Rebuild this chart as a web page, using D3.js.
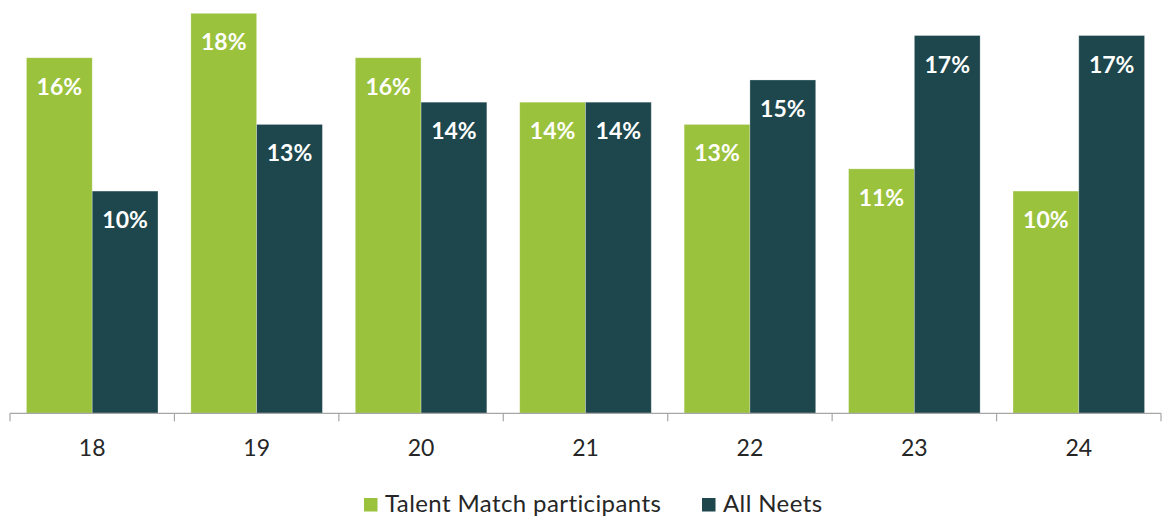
<!DOCTYPE html>
<html>
<head>
<meta charset="utf-8">
<script src="https://cdn.jsdelivr.net/npm/d3@7"></script>
<style>
  body { margin: 0; background: #fff; }
  svg { display: block; font-family: Lato, "Open Sans", sans-serif; }
</style>
</head>
<body>
<svg id="chart" width="1162" height="518"></svg>
<script>
// ages on the x axis
var ages = ['18', '19', '20', '21', '22', '23', '24'];
// share in percent, per age
var talentMatch = [16, 18, 16, 14, 13, 11, 10];
var allNeets = [10, 13, 14, 14, 15, 17, 17];
var seriesNames = ['Talent Match participants', 'All Neets'];
var seriesColors = ['#9bc23c', '#1d474c'];

var svg = d3.select('#chart');
var plotLeft = 10, plotRight = 1161, plotTop = 13.3, base = 413.3;

var x = d3.scaleBand().domain(ages).range([plotLeft, plotRight]).paddingInner(0.2).paddingOuter(0.1);
var x1 = d3.scaleBand().domain([0, 1]).range([0, x.bandwidth()]);
var y = d3.scaleLinear().domain([0, 18]).range([base, plotTop]);

var rows = ages.map(function (a, i) {
  return {age: a, vals: [talentMatch[i], allNeets[i]]};
});

var g = svg.selectAll('g.grp').data(rows).enter().append('g')
  .attr('class', 'grp')
  .attr('transform', function (d) { return 'translate(' + x(d.age) + ',0)'; });

g.selectAll('rect').data(function (d) { return d.vals; }).enter().append('rect')
  .attr('x', function (d, i) { return x1(i); })
  .attr('y', function (d) { return y(d); })
  .attr('width', x1.bandwidth())
  .attr('height', function (d) { return base - y(d); })
  .attr('fill', function (d, i) { return seriesColors[i]; })
  .attr('stroke', '#ffffff')
  .attr('stroke-opacity', 0.35)
  .attr('stroke-width', 0.8);

g.selectAll('text').data(function (d) { return d.vals; }).enter().append('text')
  .attr('x', function (d, i) { return x1(i) + x1.bandwidth() / 2; })
  .attr('y', function (d) { return y(d) + 37; })
  .attr('text-anchor', 'middle')
  .attr('fill', '#ffffff')
  .attr('font-weight', 'bold')
  .attr('font-size', '23px')
  .text(function (d) { return d + '%'; });

// axis: labels at band centres, ticks on the band edges
var axis = svg.append('g').attr('transform', 'translate(0,' + base + ')');
axis.append('line').attr('x1', plotLeft).attr('x2', plotRight).attr('y1', 0).attr('y2', 0)
  .attr('stroke', '#a6a6a6').attr('stroke-width', 1.2);
for (var i = 0; i <= ages.length; i++) {
  var tx = plotLeft + i * x.step();
  axis.append('line').attr('x1', tx).attr('x2', tx).attr('y1', 0).attr('y2', 8)
    .attr('stroke', '#a6a6a6').attr('stroke-width', 1.2);
}
axis.selectAll('text.tick').data(ages).enter().append('text')
  .attr('class', 'tick')
  .attr('x', function (d) { return x(d) + x.bandwidth() / 2; })
  .attr('y', 43)
  .attr('text-anchor', 'middle')
  .attr('fill', '#262626')
  .attr('font-size', '23px')
  .text(function (d) { return d; });

// legend
var legendX = [364, 702];
var lg = svg.selectAll('g.leg').data(seriesNames).enter().append('g')
  .attr('class', 'leg')
  .attr('transform', function (d, i) { return 'translate(' + legendX[i] + ',498)'; });
lg.append('rect').attr('width', 13.5).attr('height', 13.5)
  .attr('fill', function (d, i) { return seriesColors[i]; });
lg.append('text').attr('x', 21).attr('y', 13.5)
  .attr('fill', '#262626')
  .attr('font-size', '24px')
  .attr('letter-spacing', '0.4px')
  .text(function (d) { return d; });
</script>
</body>
</html>
